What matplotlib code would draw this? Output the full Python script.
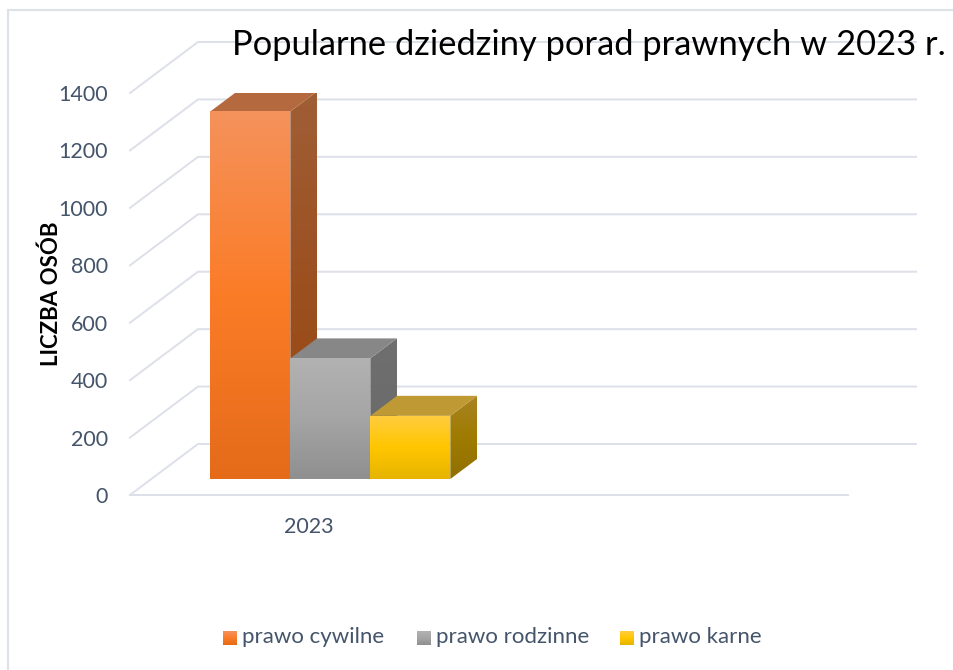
import numpy as np
import matplotlib
matplotlib.use("Agg")
import matplotlib.pyplot as plt
from matplotlib.colors import LinearSegmentedColormap
from matplotlib.patches import Polygon

W, H = 954, 670

year = "2023"
series = ["prawo cywilne", "prawo rodzinne", "prawo karne"]
values = [1280, 420, 220]
y_ticks = [0, 200, 400, 600, 800, 1000, 1200, 1400]

front_stops = [["#F5925C", "#FB7C27", "#E56B19"],
               ["#B2B2B2", "#A5A5A5", "#8F8F8F"],
               ["#FFCD40", "#FFC600", "#E6B400"]]
side_stops = [["#A05E36", "#9C5020", "#96480F"],
              ["#6F6F6F", "#6C6C6C", "#666666"],
              ["#A98425", "#9F7B00", "#917000"]]
top_colors = ["#B5693E", "#878787", "#BF9A34"]

grid_color = "#DDE0E8"
text_color = "#44546A"

# depth of the fake 3d box, in axis units
wall_dx, wall_dy = 68 / 80, 51 / (402 / 1400)
bar_near, bar_far = 16 / 51, 36 / 51


def project(x, v, d):
    return x + d * wall_dx, v + d * wall_dy


def gradient(ax, points, stops, z):
    cmap = LinearSegmentedColormap.from_list("g", stops)
    pts = np.array(points)
    box = [pts[:, 0].min(), pts[:, 0].max(), pts[:, 1].min(), pts[:, 1].max()]
    im = ax.imshow(np.linspace(0, 1, 256)[:, None], cmap=cmap, extent=box, origin="upper",
                   aspect="auto", zorder=z, interpolation="bilinear")
    im.set_clip_path(Polygon(points, closed=True, transform=ax.transData))


plt.rcParams["font.family"] = ["Lato", "DejaVu Sans"]
fig = plt.figure(figsize=(W / 100, H / 100), dpi=100)
ax = fig.add_axes([130 / W, 1 - 495 / H, 718 / W, 402 / H])

# walls and gridlines
for t in y_ticks:
    bx, by = project(-179 / 80, t, 1)
    ax.plot([-179 / 80, bx, 539 / 80 + wall_dx], [t, by, by], color=grid_color, lw=1.4,
            clip_on=False, zorder=1, solid_joinstyle="miter")
ax.plot([-179 / 80, 539 / 80], [0, 0], color=grid_color, lw=1.4, clip_on=False, zorder=1)

# one box per series, left to right
for i, v in enumerate(values):
    x0, x1 = i - 1.5, i - 0.5
    base = 3 * i + 2
    a = project(x0, 0, bar_near)
    b = project(x1, 0, bar_near)
    c = project(x1, v, bar_near)
    e = project(x0, v, bar_near)
    b2 = project(x1, 0, bar_far)
    c2 = project(x1, v, bar_far)
    e2 = project(x0, v, bar_far)
    gradient(ax, [b, b2, c2, c], side_stops[i], base)
    ax.add_patch(Polygon([e, c, c2, e2], closed=True, fc=top_colors[i], ec="none", zorder=base + 1))
    gradient(ax, [a, b, c, e], front_stops[i], base + 2)

ax.set_xlim(-179 / 80, 539 / 80)
ax.set_ylim(0, 1400)
for s in ax.spines.values():
    s.set_visible(False)
ax.patch.set_visible(False)
ax.set_xticks([0], [year])
ax.set_yticks(y_ticks)
ax.tick_params(length=0, labelsize=15.5, labelcolor=text_color)
ax.tick_params(axis="x", pad=16)
ax.tick_params(axis="y", pad=16)

fig.text(51 / W, 1 - 294 / H, "LICZBA OSÓB", rotation=90, ha="center", va="center",
         fontsize=16, fontweight="bold", color="black")

fig.text(232 / W, 1 - 45 / H, "Popularne dziedziny porad prawnych w 2023 r.",
         fontsize=24.8, color="black", ha="left", va="center", zorder=20)

# chart frame, only the top and left edges show
over = fig.add_axes([0, 0, 1, 1])
over.axis("off")
over.plot([8, 8, W], [H, 10, 10], color="#DDE1E8", lw=1.5, solid_joinstyle="miter")

# legend
leg_x = [223, 417, 620]
for i, name in enumerate(series):
    x = leg_x[i]
    over.imshow(np.linspace(0, 1, 32)[:, None], cmap=LinearSegmentedColormap.from_list("l", front_stops[i]),
                extent=[x, x + 14, 645, 631], aspect="auto")
    over.text(x + 19, 637, name, fontsize=16, color=text_color, va="center", ha="left")
over.set_xlim(0, W)
over.set_ylim(H, 0)

fig.savefig("out.png", dpi=100)
